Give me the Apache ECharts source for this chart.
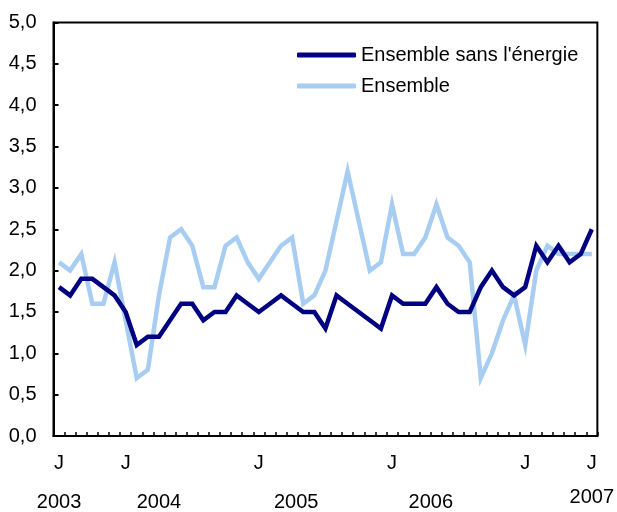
<!DOCTYPE html>
<html>
<head>
<meta charset="utf-8">
<script src="https://cdn.jsdelivr.net/npm/echarts@6/dist/echarts.min.js"></script>
<style>html,body{margin:0;padding:0;background:#fff;}#c{width:617px;height:512px;}</style>
</head>
<body>
<div id="c"></div>
<script>
const months = [
  '2003-01','2003-02','2003-03','2003-04','2003-05','2003-06','2003-07','2003-08','2003-09','2003-10','2003-11','2003-12',
  '2004-01','2004-02','2004-03','2004-04','2004-05','2004-06','2004-07','2004-08','2004-09','2004-10','2004-11','2004-12',
  '2005-01','2005-02','2005-03','2005-04','2005-05','2005-06','2005-07','2005-08','2005-09','2005-10','2005-11','2005-12',
  '2006-01','2006-02','2006-03','2006-04','2006-05','2006-06','2006-07','2006-08','2006-09','2006-10','2006-11','2006-12',
  '2007-01'
];
const sansEnergie = [1.8,1.7,1.9,1.9,1.8,1.7,1.5,1.1,1.2,1.2,1.4,1.6,1.6,1.4,1.5,1.5,1.7,1.6,1.5,1.6,1.7,1.6,1.5,1.5,1.3,1.7,1.6,1.5,1.4,1.3,1.7,1.6,1.6,1.6,1.8,1.6,1.5,1.5,1.8,2.0,1.8,1.7,1.8,2.3,2.1,2.3,2.1,2.2,2.5];
const ensemble = [2.1,2.0,2.2,1.6,1.6,2.1,1.4,0.7,0.8,1.7,2.4,2.5,2.3,1.8,1.8,2.3,2.4,2.1,1.9,2.1,2.3,2.4,1.6,1.7,2.0,2.6,3.2,2.6,2.0,2.1,2.8,2.2,2.2,2.4,2.8,2.4,2.3,2.1,0.7,1.0,1.4,1.7,1.1,2.0,2.3,2.2,2.2,2.2,2.2];
const seriesNames = ["Ensemble sans l'énergie", 'Ensemble'];
const monthTickIndex = [0, 6, 18, 30, 42, 48];
const monthTickText = ['J', 'J', 'J', 'J', 'J', 'J'];
const yearTickIndex = [0, 9, 21, 33];
const yearTickText = ['2003', '2004', '2005', '2006'];
const yearTickStyle = ['a', 'a', 'b', 'c'];
const lastYearIndex = [48];
const lastYearText = ['2007'];
const lastYearStyle = ['a'];

const FONT = '"Liberation Sans", Arial, Helvetica, sans-serif';
function labelFrom(idx, txt, sty) {
  return function (v, i) {
    const k = idx.indexOf(i);
    if (k < 0) return '';
    return sty ? '{' + sty[k] + '|' + txt[k] + '}' : txt[k];
  };
}
const yearRich = {
  a: { fontSize: 20, fontFamily: FONT, color: '#000' },
  b: { fontSize: 20, fontFamily: FONT, color: '#000', padding: [0, 0, 0, 8] },
  c: { fontSize: 20, fontFamily: FONT, color: '#000', padding: [0, 0, 0, 11] }
};
const hiddenAxis = { show: false };
const chart = echarts.init(document.getElementById('c'), null, { renderer: 'canvas' });
chart.setOption({
  animation: false,
  backgroundColor: '#fff',
  textStyle: { fontFamily: FONT, color: '#000' },
  grid: { left: 53.5, right: 15, top: 22.5, bottom: 75, show: true, borderColor: '#000', borderWidth: 2, containLabel: false },
  legend: {
    orient: 'vertical', left: 292, top: 40, itemWidth: 59, itemHeight: 5, itemGap: 11,
    icon: 'roundRect',
    textStyle: { fontFamily: FONT, fontSize: 20, color: '#000' },
    data: seriesNames
  },
  xAxis: [
    {
      type: 'category', data: months, boundaryGap: true,
      axisLine: { lineStyle: { color: '#000', width: 2 } },
      axisTick: { show: true, inside: true, length: 4, interval: 0, lineStyle: { color: '#000', width: 1.5 } },
      axisLabel: { interval: 0, margin: 17, fontSize: 20, fontFamily: FONT, color: '#000', formatter: labelFrom(monthTickIndex, monthTickText) },
      splitLine: hiddenAxis
    },
    {
      type: 'category', data: months, boundaryGap: true, position: 'bottom',
      axisLine: hiddenAxis, axisTick: hiddenAxis,
      axisLabel: { interval: 0, margin: 56, fontSize: 20, fontFamily: FONT, color: '#000', rich: yearRich, formatter: labelFrom(yearTickIndex, yearTickText, yearTickStyle) },
      splitLine: hiddenAxis
    },
    {
      type: 'category', data: months, boundaryGap: true, position: 'bottom',
      axisLine: hiddenAxis, axisTick: hiddenAxis,
      axisLabel: { interval: 0, margin: 51, fontSize: 20, fontFamily: FONT, color: '#000', rich: yearRich, formatter: labelFrom(lastYearIndex, lastYearText, lastYearStyle) },
      splitLine: hiddenAxis
    }
  ],
  yAxis: {
    type: 'value', min: 0, max: 5, interval: 0.5,
    axisLine: { show: true, lineStyle: { color: '#000', width: 2 } },
    axisTick: { show: true, inside: true, length: 5, lineStyle: { color: '#000', width: 2 } },
    axisLabel: { margin: 17, fontSize: 20, fontFamily: FONT, color: '#000', formatter: v => v.toFixed(1).replace('.', ',') },
    splitLine: hiddenAxis
  },
  series: [
    { name: seriesNames[0], type: 'line', xAxisIndex: 0, data: sansEnergie, symbol: 'none', color: '#000080',
      lineStyle: { width: 4.5, color: '#000080', join: 'miter' }, z: 3 },
    { name: seriesNames[1], type: 'line', xAxisIndex: 0, data: ensemble, symbol: 'none', color: '#a8cdf2',
      lineStyle: { width: 4.5, color: '#a8cdf2', join: 'miter' }, z: 2 }
  ]
});
</script>
</body>
</html>
